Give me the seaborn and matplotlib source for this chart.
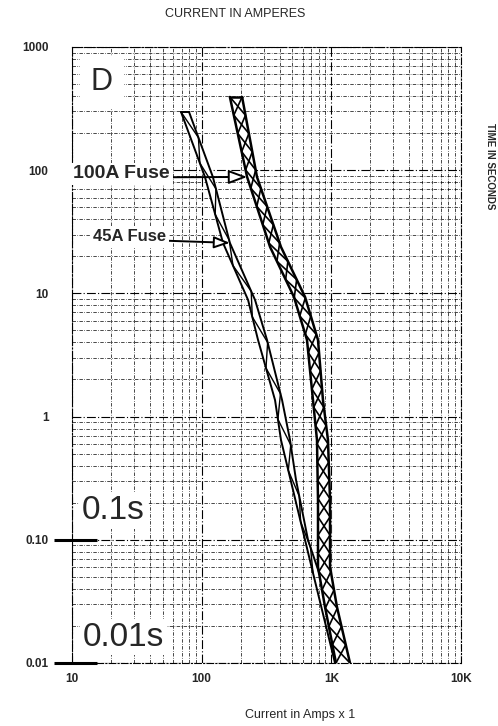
import numpy as np
import matplotlib
matplotlib.use("Agg")
import matplotlib.pyplot as plt
import seaborn as sns
from matplotlib.ticker import NullFormatter

# 100A fuse band: time (s) vs min / max current (A)
t_100 = [392.8, 88.1, 23.8, 9.35, 4.19, 1.36, 0.646, 0.21, 0.0602, 0.0285, 0.01]
i_100_lo = [165, 224, 337, 515, 649, 722, 775, 789, 789, 894, 1086]
i_100_hi = [205, 267, 409, 627, 789, 862, 942, 977, 977, 1105, 1393]

# 45A fuse band
t_45_lo = [296.8, 88.1, 25.7, 8.84, 4.19, 1.36, 0.646, 0.185, 0.0538, 0.01]
i_45_lo = [69.3, 106, 146, 228, 272, 368, 409, 544, 722, 1067]
t_45_hi = [296.8, 88.1, 25.7, 8.84, 4.19, 1.36, 0.646, 0.306, 0.0996, 0.0538]
i_45_hi = [79.9, 122, 165, 258, 319, 417, 480, 534, 661, 805]

x_ticks = [10, 100, 1000, 10000]
x_labels = ["10", "100", "1K", "10K"]
y_ticks = [0.01, 0.1, 1, 10, 100, 1000]
y_labels = ["0.01", "0.10", "1", "10", "100", "1000"]
marked_times = [0.1, 0.01]


def edge(ts, t_pts, i_pts):
    # log-log interpolation along a curve given top-to-bottom
    t_pts = np.asarray(t_pts, float)[::-1]
    i_pts = np.asarray(i_pts, float)[::-1]
    return 10 ** np.interp(np.log10(ts), np.log10(t_pts), np.log10(i_pts))


sns.set_theme(style="white")
plt.rcParams["font.family"] = ["Liberation Sans", "DejaVu Sans"]

fig = plt.figure(figsize=(4.98, 7.26), dpi=100)
ax = fig.add_axes([0.1446, 0.0868, 0.7811, 0.8485])
ax.set_xscale("log")
ax.set_yscale("log")
ax.set_xlim(10, 10000)
ax.set_ylim(0.01, 1000)

ax.grid(which="major", color="black", lw=0.8, ls=(0, (8, 2, 1, 2)))
ax.grid(which="minor", color="black", lw=0.5, ls=(0, (5, 2, 1, 2)))
ax.set_axisbelow(True)
for sp in ax.spines.values():
    sp.set_linestyle((0, (6, 2, 1, 2)))
    sp.set_linewidth(0.8)
    sp.set_color("black")

# white interiors of the bands
ts100 = np.logspace(np.log10(t_100[0]), np.log10(t_100[-1]), 200)
ax.fill_betweenx(ts100, edge(ts100, t_100, i_100_lo), edge(ts100, t_100, i_100_hi),
                 color="white", zorder=2)
ts45 = np.logspace(np.log10(t_45_hi[0]), np.log10(t_45_hi[-1]), 200)
ax.fill_betweenx(ts45, edge(ts45, t_45_lo, i_45_lo), edge(ts45, t_45_hi, i_45_hi),
                 color="white", zorder=2)

# band edges
for t, i, lw in [(t_100, i_100_lo, 1.8), (t_100, i_100_hi, 1.8),
                 (t_45_lo, i_45_lo, 1.4), (t_45_hi, i_45_hi, 1.4)]:
    sns.lineplot(x=i, y=t, sort=False, estimator=None, color="black", lw=lw, ax=ax, zorder=4)
# flat caps at the top of each band
ax.plot([i_100_lo[0], i_100_hi[0]], [t_100[0], t_100[0]], color="black", lw=1.8, zorder=4)
ax.plot([i_45_lo[0], i_45_hi[0]], [t_45_lo[0], t_45_hi[0]], color="black", lw=1.4, zorder=4)

# cross hatch inside the 100A band
zs = np.logspace(np.log10(t_100[0]), np.log10(t_100[-1]), 32)
lo, hi = edge(zs, t_100, i_100_lo), edge(zs, t_100, i_100_hi)
odd = np.arange(len(zs)) % 2 == 1
ax.plot(np.where(odd, hi, lo), zs, color="black", lw=1.2, zorder=3)
ax.plot(np.where(odd, lo, hi), zs, color="black", lw=1.2, zorder=3)

# zigzag inside the 45A band
zs = np.logspace(np.log10(t_45_hi[0]), np.log10(t_45_hi[-1]), 19)
lo, hi = edge(zs, t_45_lo, i_45_lo), edge(zs, t_45_hi, i_45_hi)
odd = np.arange(len(zs)) % 2 == 1
ax.plot(np.where(odd, hi, lo), zs, color="black", lw=1.0, zorder=3)

ax.set_xticks(x_ticks, labels=x_labels)
ax.set_yticks(y_ticks, labels=y_labels)
ax.xaxis.set_minor_formatter(NullFormatter())
ax.yaxis.set_minor_formatter(NullFormatter())
ax.tick_params(which="both", length=0)
ax.tick_params(axis="y", pad=17, labelsize=8.5)
ax.tick_params(axis="x", pad=7, labelsize=8.5)
for lab in ax.get_xticklabels() + ax.get_yticklabels():
    lab.set_fontweight("bold")
ax.set_xlabel("")
ax.set_ylabel("")

# thick marks at 0.1 s and 0.01 s
for yv in marked_times:
    ax.plot([-0.046, 0.064], [yv, yv], transform=ax.get_yaxis_transform(),
            color="black", lw=2.2, clip_on=False, solid_capstyle="butt", zorder=5)

box = dict(fc="white", ec="none", pad=2)
ax.text(0.077, 0.943, "D", fontsize=22, ha="center", va="center", transform=ax.transAxes,
        bbox=dict(fc="white", ec="none", pad=8), zorder=5)
ax.text(0.026, 0.247, "0.1s", fontsize=24, ha="left", va="center",
        transform=ax.transAxes, bbox=box, zorder=5)
ax.text(0.028, 0.042, "0.01s", fontsize=24, ha="left", va="center",
        transform=ax.transAxes, bbox=box, zorder=5)

tip100 = edge(np.array([88.1]), t_100, i_100_lo)[0]
ax.annotate("100A Fuse", xy=(tip100, 88.1), xytext=(0.003, 0.794),
            textcoords="axes fraction", ha="left", va="center",
            fontsize=14, fontweight="bold", bbox=box, zorder=6,
            arrowprops=dict(arrowstyle="-|>,head_length=0.8,head_width=0.3",
                            fc="white", ec="black", lw=1.4, relpos=(1, 0.3),
                            shrinkA=0, shrinkB=0))
tip45 = edge(np.array([25.7]), t_45_hi, i_45_hi)[0]
ax.annotate("45A Fuse", xy=(tip45, 25.7), xytext=(0.054, 0.6916),
            textcoords="axes fraction", ha="left", va="center",
            fontsize=12, fontweight="bold", bbox=box, zorder=6,
            arrowprops=dict(arrowstyle="-|>,head_length=0.8,head_width=0.3",
                            fc="white", ec="black", lw=1.4, relpos=(1, 0.25),
                            shrinkA=0, shrinkB=0))

fig.text(0.472, 0.9807, "CURRENT IN AMPERES", fontsize=9, ha="center", va="center")
fig.text(0.602, 0.0152, "Current in Amps x 1", fontsize=9, ha="center", va="center")
fig.text(0.984, 0.771, "TIME IN SECONDS", fontsize=7, fontweight="bold",
         rotation=-90, ha="center", va="center")

fig.savefig("out.png", dpi=100)
